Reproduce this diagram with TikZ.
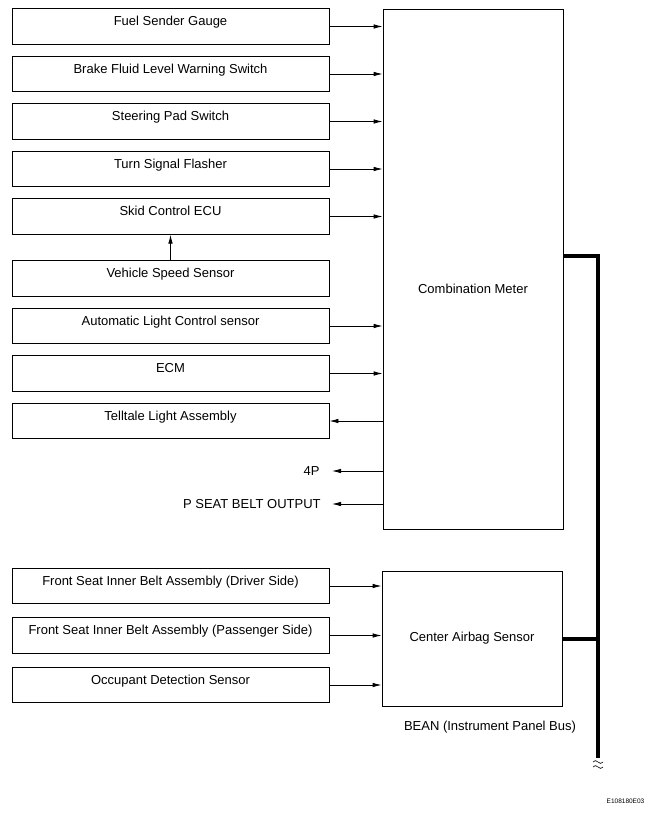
\documentclass[tikz,border=0pt]{standalone}
\usepackage{fontspec}
\setmainfont{Liberation Sans}
\usetikzlibrary{arrows.meta}

\begin{document}
\begin{tikzpicture}[x=1pt,y=-1pt,->,>={Latex[length=9pt,width=4.5pt]},
  node distance=47.5pt,line width=0.8pt,font=\fontsize{13}{15}\selectfont,
  part node/.style={rectangle,draw,minimum width=317pt,inner xsep=0pt,
  inner ysep=7.5pt,text height=9.5pt,text depth=11pt},
  unit node/.style={rectangle,draw,minimum width=180pt},
  bus line/.style={-,line width=4pt}]

  \useasboundingbox (0,0) rectangle (653,813);

  % inputs of the combination meter
  \node[part node] (fuel) at (170.5,26.5) {Fuel Sender Gauge};
  \node[part node] (brake) [below of=fuel] {Brake Fluid Level Warning Switch};
  \node[part node] (steer) [below of=brake] {Steering Pad Switch};
  \node[part node] (turn) [below of=steer] {Turn Signal Flasher};
  \node[part node] (skid) [below of=turn] {Skid Control ECU};
  \node[part node] (speed) [node distance=62pt,below of=skid] {Vehicle Speed Sensor};
  \node[part node] (light) [below of=speed] {Automatic Light Control sensor};
  \node[part node] (ecm) [below of=light] {ECM};
  \node[part node] (tell) [below of=ecm] {Telltale Light Assembly};

  % inputs of the airbag sensor
  \node[part node] (driver) at (170.5,586) {Front Seat Inner Belt Assembly (Driver Side)};
  \node[part node] (pass) [node distance=49.5pt,below of=driver] {Front Seat Inner Belt Assembly (Passenger Side)};
  \node[part node] (occ) [node distance=49.5pt,below of=pass] {Occupant Detection Sensor};

  \node[unit node,minimum height=520pt] (cm) at (473,269) {};
  \node (cmlabel) at ([yshift=-20pt]cm.center) {Combination Meter};
  \node[unit node,minimum height=135pt] (cas) at (472,638.5) {Center Airbag Sensor};

  \node[anchor=east,inner sep=0pt] (fourp) at (320,471) {4P};
  \node[anchor=east,inner sep=0pt] (pseat) at (321,504) {P SEAT BELT OUTPUT};

  \path
    (fuel) edge (fuel -| cm.west)
    (brake) edge (brake -| cm.west)
    (steer) edge (steer -| cm.west)
    (turn) edge (turn -| cm.west)
    (skid) edge (skid -| cm.west)
    (speed) edge (skid)
    (light) edge (light -| cm.west)
    (ecm) edge (ecm -| cm.west)
    (cm.west |- tell) edge (tell)
    (fourp -| cm.west) edge ([xshift=12pt]fourp.east)
    (pseat -| cm.west) edge ([xshift=11pt]pseat.east)
    (driver) edge (driver -| cas.west)
    (pass) edge (pass -| cas.west)
    (occ) edge (occ -| cas.west);

  % BEAN bus
  \coordinate (bustop) at (598,256);
  \coordinate (busend) at (598,758);
  \draw[bus line] (cm.east |- bustop) -- (bustop) -- (busend);
  \draw[bus line] (cas.east) -- (cas.east -| bustop);
  \draw[-,line width=0.6pt] (593,762) .. controls (596,757) and (600,767) .. (603,762);
  \draw[-,line width=0.6pt] (593,767) .. controls (596,762) and (600,772) .. (603,767);

  \node (bean) at (490,727) {BEAN (Instrument Panel Bus)};
  \node[font=\fontsize{6.5}{8}\selectfont] (code) at (625.5,801) {E108180E03};
\end{tikzpicture}
\end{document}
